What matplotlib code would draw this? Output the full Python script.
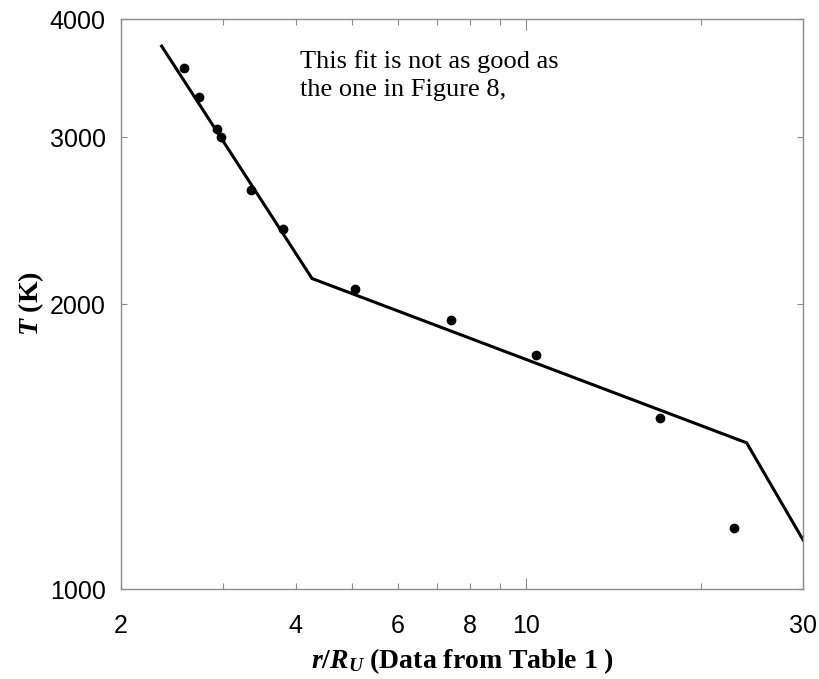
import matplotlib
matplotlib.use('Agg')
import matplotlib.pyplot as plt
from matplotlib.ticker import FixedLocator, FixedFormatter, NullLocator

plt.rcParams['mathtext.fontset'] = 'custom'
plt.rcParams['mathtext.rm'] = 'Liberation Serif:bold'
plt.rcParams['mathtext.it'] = 'Liberation Serif:italic:bold'
plt.rcParams['mathtext.bf'] = 'Liberation Serif:bold'

# measured points, r/R_U vs T
r = [2.57, 2.73, 2.93, 2.97, 3.35, 3.81, 5.06, 7.41, 10.39, 17.0, 22.8]
T = [3549, 3307, 3060, 3001, 2638, 2399, 2074, 1923, 1767, 1515, 1160]

# broken power-law fit
fit_r = [2.35, 4.27, 23.98, 30]
fit_T = [3745, 2128, 1427, 1127]

xticks_minor = [2, 3, 4, 5, 6, 7, 8, 9, 20, 30]
xlabels_minor = ['2', '', '4', '', '6', '', '8', '', '', '30']
yticks = [1000, 2000, 3000, 4000]

fig = plt.figure(figsize=(8.2, 6.79), dpi=100)
ax = fig.add_axes([0.1476, 0.1325, 0.8317, 0.8395])

ax.plot(fit_r, fit_T, color='black', lw=2.2, solid_joinstyle='miter')
ax.plot(r, T, 'o', color='black', ms=6)

ax.set_xscale('log')
ax.set_yscale('log')
ax.set_xlim(2, 30)
ax.set_ylim(1000, 4000)

ax.xaxis.set_major_locator(FixedLocator([10]))
ax.xaxis.set_major_formatter(FixedFormatter(['10']))
ax.xaxis.set_minor_locator(FixedLocator(xticks_minor))
ax.xaxis.set_minor_formatter(FixedFormatter(xlabels_minor))
ax.yaxis.set_major_locator(FixedLocator(yticks))
ax.yaxis.set_major_formatter(FixedFormatter([str(v) for v in yticks]))
ax.yaxis.set_minor_locator(NullLocator())

for s in ax.spines.values():
    s.set_color('#8c8c8c')
    s.set_linewidth(1.0)

ax.tick_params(axis='x', which='major', direction='in', length=8, width=0.8,
               color='#8c8c8c', top=True, pad=18, labelsize=18)
ax.tick_params(axis='x', which='minor', direction='in', length=4.5, width=0.8,
               color='#8c8c8c', top=True, pad=18, labelsize=18)
ax.tick_params(axis='y', which='major', direction='in', length=4.5, width=0.8,
               color='#8c8c8c', right=True, pad=11, labelsize=18)
for lab in ax.get_xticklabels(which='both') + ax.get_yticklabels():
    lab.set_fontfamily('Liberation Sans')

ax.set_xlabel(r'$r/R_U$ (Data from Table 1 )', fontfamily='Liberation Serif',
              fontweight='bold', fontsize=20, labelpad=6)
ax.set_ylabel(r'$T$ (K)', fontfamily='Liberation Serif', fontweight='bold',
              fontsize=20, labelpad=3)

ax.text(0.2625, 0.946, 'This fit is not as good as\nthe one in Figure 8,',
        transform=ax.transAxes, ha='left', va='top',
        fontfamily='Liberation Serif', fontsize=19, linespacing=1.38)

fig.savefig('out.png', dpi=100)
